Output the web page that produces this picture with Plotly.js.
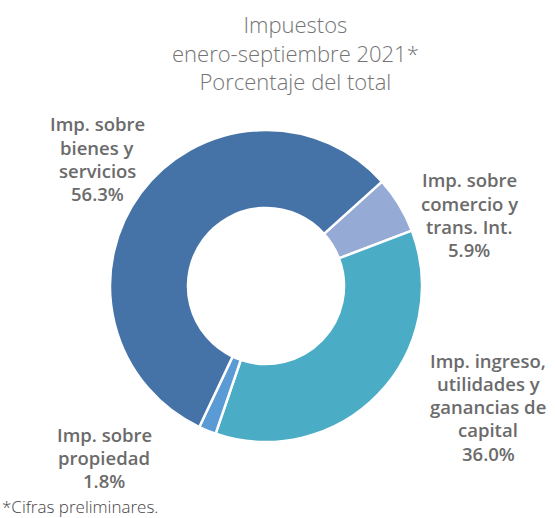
<!DOCTYPE html>
<html>
<head>
<meta charset="utf-8">
<script src="https://cdn.plot.ly/plotly-3.0.1.min.js"></script>
<style>html,body{margin:0;padding:0;background:#fff;}#chart{width:555px;height:518px;}</style>
</head>
<body>
<div id="chart"></div>
<script>
const categories = [
  "Imp. sobre<br>comercio y<br>trans. Int.",
  "Imp. ingreso,<br>utilidades y<br>ganancias de<br>capital",
  "Imp. sobre<br>propiedad",
  "Imp. sobre<br>bienes y<br>servicios"
];
const values = [5.9, 36.0, 1.8, 56.3];
const colors = ["#95aad5", "#4bacc6", "#5b9bd5", "#4673a7"];
const titleText = "Impuestos<br>enero-septiembre 2021*<br>Porcentaje del total";
const footnote = "*Cifras preliminares.";

// label layout: centre x and first-line y (pixels), line step
const labelPos = [
  {x: 469, y: 180},
  {x: 488, y: 360},
  {x: 104, y: 434},
  {x: 97, y: 124}
];
const LSTEP = 23.3;

const W = 555, H = 518;
const FONT = "Open Sans, sans-serif";
const annotations = [];
categories.forEach((c, i) => {
  const lines = c.split("<br>").concat([values[i].toFixed(1) + "%"]);
  lines.forEach((ln, k) => {
    annotations.push({
      text: ln,
      x: labelPos[i].x / W, y: 1 - (labelPos[i].y + k * LSTEP) / H,
      xref: "paper", yref: "paper", xanchor: "center", yanchor: "middle",
      showarrow: false, align: "center",
      font: {family: FONT, size: 18.5, color: "#6b6b6b", weight: 600}
    });
  });
});
annotations.push({
  text: titleText, x: 295 / W, y: 1 - 52 / H, xref: "paper", yref: "paper",
  xanchor: "center", yanchor: "middle", showarrow: false, align: "center",
  font: {family: FONT, size: 22, color: "#747474", weight: 300}
});
annotations.push({
  text: footnote, x: 0.0, y: 1 - 506 / H, xref: "paper", yref: "paper",
  xanchor: "left", yanchor: "middle", showarrow: false,
  font: {family: FONT, size: 17, color: "#444", weight: 300}
});

const cx = 266, cy = 286, r = 156;
Plotly.newPlot("chart", [{
  type: "pie",
  labels: categories,
  values: values,
  sort: false,
  direction: "clockwise",
  rotation: 48,
  hole: 0.5,
  textinfo: "none",
  marker: {colors: colors, line: {color: "#ffffff", width: 2.5}},
  domain: {x: [(cx - r) / W, (cx + r) / W], y: [1 - (cy + r) / H, 1 - (cy - r) / H]},
  showlegend: false
}], {
  width: W, height: H,
  margin: {l: 0, r: 0, t: 0, b: 0},
  paper_bgcolor: "#ffffff",
  annotations: annotations
}, {displayModeBar: false, staticPlot: true});
</script>
</body>
</html>
